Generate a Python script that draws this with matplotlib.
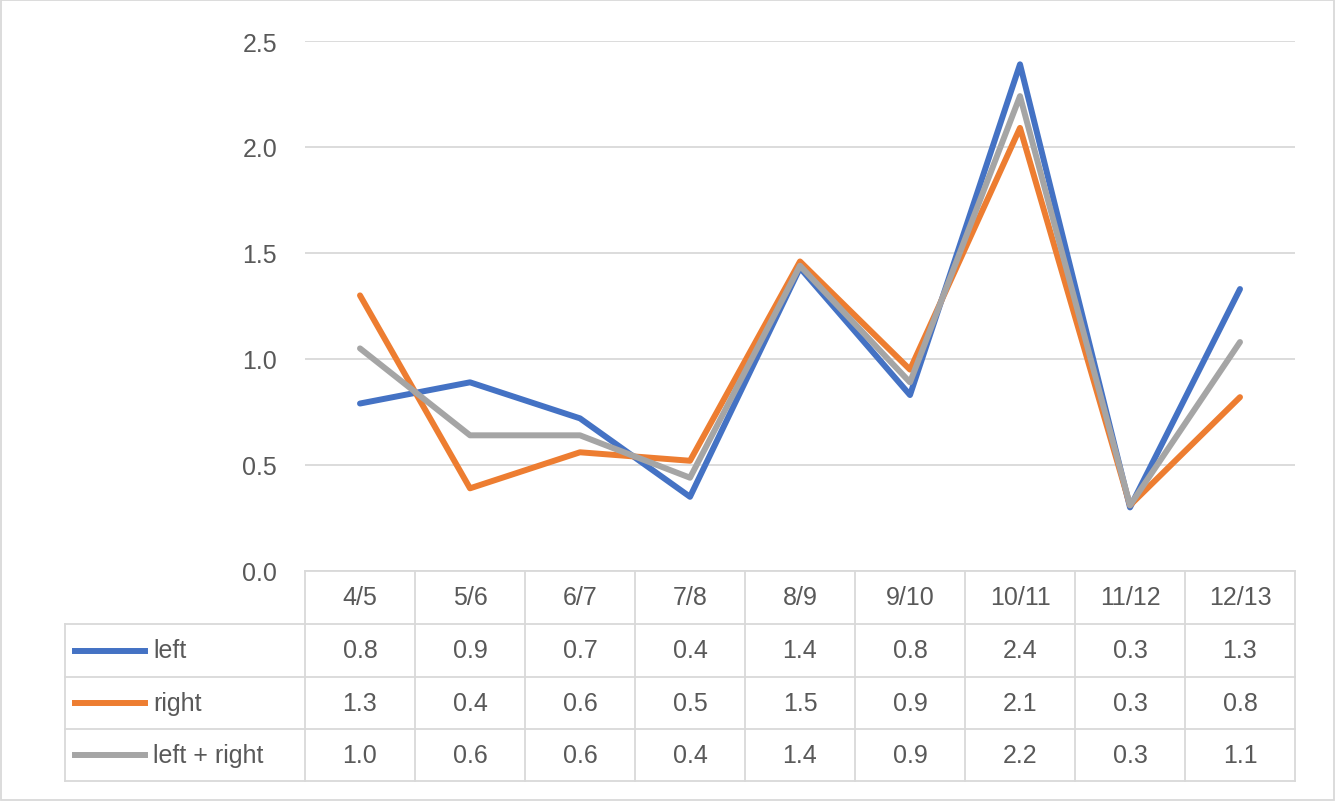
import matplotlib
matplotlib.use("Agg")
import matplotlib.pyplot as plt
from matplotlib.lines import Line2D

categories = ["4/5","5/6","6/7","7/8","8/9","9/10","10/11","11/12","12/13"]
left = [0.79,0.89,0.72,0.35,1.43,0.83,2.39,0.30,1.33]
right = [1.30,0.39,0.56,0.52,1.46,0.95,2.09,0.31,0.82]
both = [1.05,0.64,0.64,0.44,1.44,0.89,2.24,0.31,1.08]
series_names = ["left","right","left + right"]
table_left = ["0.8","0.9","0.7","0.4","1.4","0.8","2.4","0.3","1.3"]
table_right = ["1.3","0.4","0.6","0.5","1.5","0.9","2.1","0.3","0.8"]
table_both = ["1.0","0.6","0.6","0.4","1.4","0.9","2.2","0.3","1.1"]
colors = ["#4472C4","#ED7D31","#A5A5A5"]
yticks = [0.0,0.5,1.0,1.5,2.0,2.5]

W,H = 1336,803
FS = 18
plt.rcParams["font.family"] = "Liberation Sans"
fig = plt.figure(figsize=(W/100,H/100),dpi=100)
def fx(x): return x/W
def fy(y): return 1-y/H
x0,x1,ytop,ybot = 305,1295,42,572
ax = fig.add_axes([fx(x0),fy(ybot),fx(x1-x0),(ybot-ytop)/H])
ax.set_xlim(-0.5,len(categories)-0.5)
ax.set_ylim(0,2.5)
for v in yticks:
    ax.axhline(v,color="#D9D9D9",lw=1.3,zorder=0)
for vals,c in zip([left,right,both],colors):
    ax.plot(range(len(categories)),vals,color=c,lw=4.3,solid_capstyle="round",solid_joinstyle="round")
for s in ax.spines.values(): s.set_visible(False)
ax.set_xticks([])
ax.set_yticks(yticks)
ax.set_yticklabels([f"{v:.1f}" for v in yticks],fontsize=FS,color="#595959")
ax.tick_params(axis="y",length=0,pad=20)

gc = "#D9D9D9"
rows = [572,625,678,730,782]
cw = (x1-x0)/len(categories)
def hline(y,xa,xb): fig.add_artist(Line2D([fx(xa),fx(xb)],[fy(y),fy(y)],color=gc,lw=1.3))
def vline(x,ya,yb): fig.add_artist(Line2D([fx(x),fx(x)],[fy(ya),fy(yb)],color=gc,lw=1.3))
hline(572,x0,x1)
for y in rows[1:]: hline(y,65,x1)
for i in range(len(categories)+1): vline(x0+i*cw,572,782)
vline(65,625,782)
for i,c in enumerate(categories):
    fig.text(fx(x0+(i+0.5)*cw),fy((rows[0]+rows[1])/2),c,ha="center",va="center",fontsize=FS,color="#595959")
for r,(name,vals,c) in enumerate(zip(series_names,[table_left,table_right,table_both],colors)):
    yc = (rows[r+1]+rows[r+2])/2
    fig.add_artist(Line2D([fx(75),fx(145)],[fy(yc),fy(yc)],color=c,lw=4.3))
    fig.text(fx(153),fy(yc),name,ha="left",va="center",fontsize=FS,color="#595959")
    for i,v in enumerate(vals):
        fig.text(fx(x0+(i+0.5)*cw),fy(yc),v,ha="center",va="center",fontsize=FS,color="#595959")
fig.add_artist(plt.Rectangle((fx(1),fy(801)),fx(1333),802/H-2/H,fill=False,ec="#D9D9D9",lw=1.3,transform=fig.transFigure))
fig.savefig("out.png",dpi=100,facecolor="white")
